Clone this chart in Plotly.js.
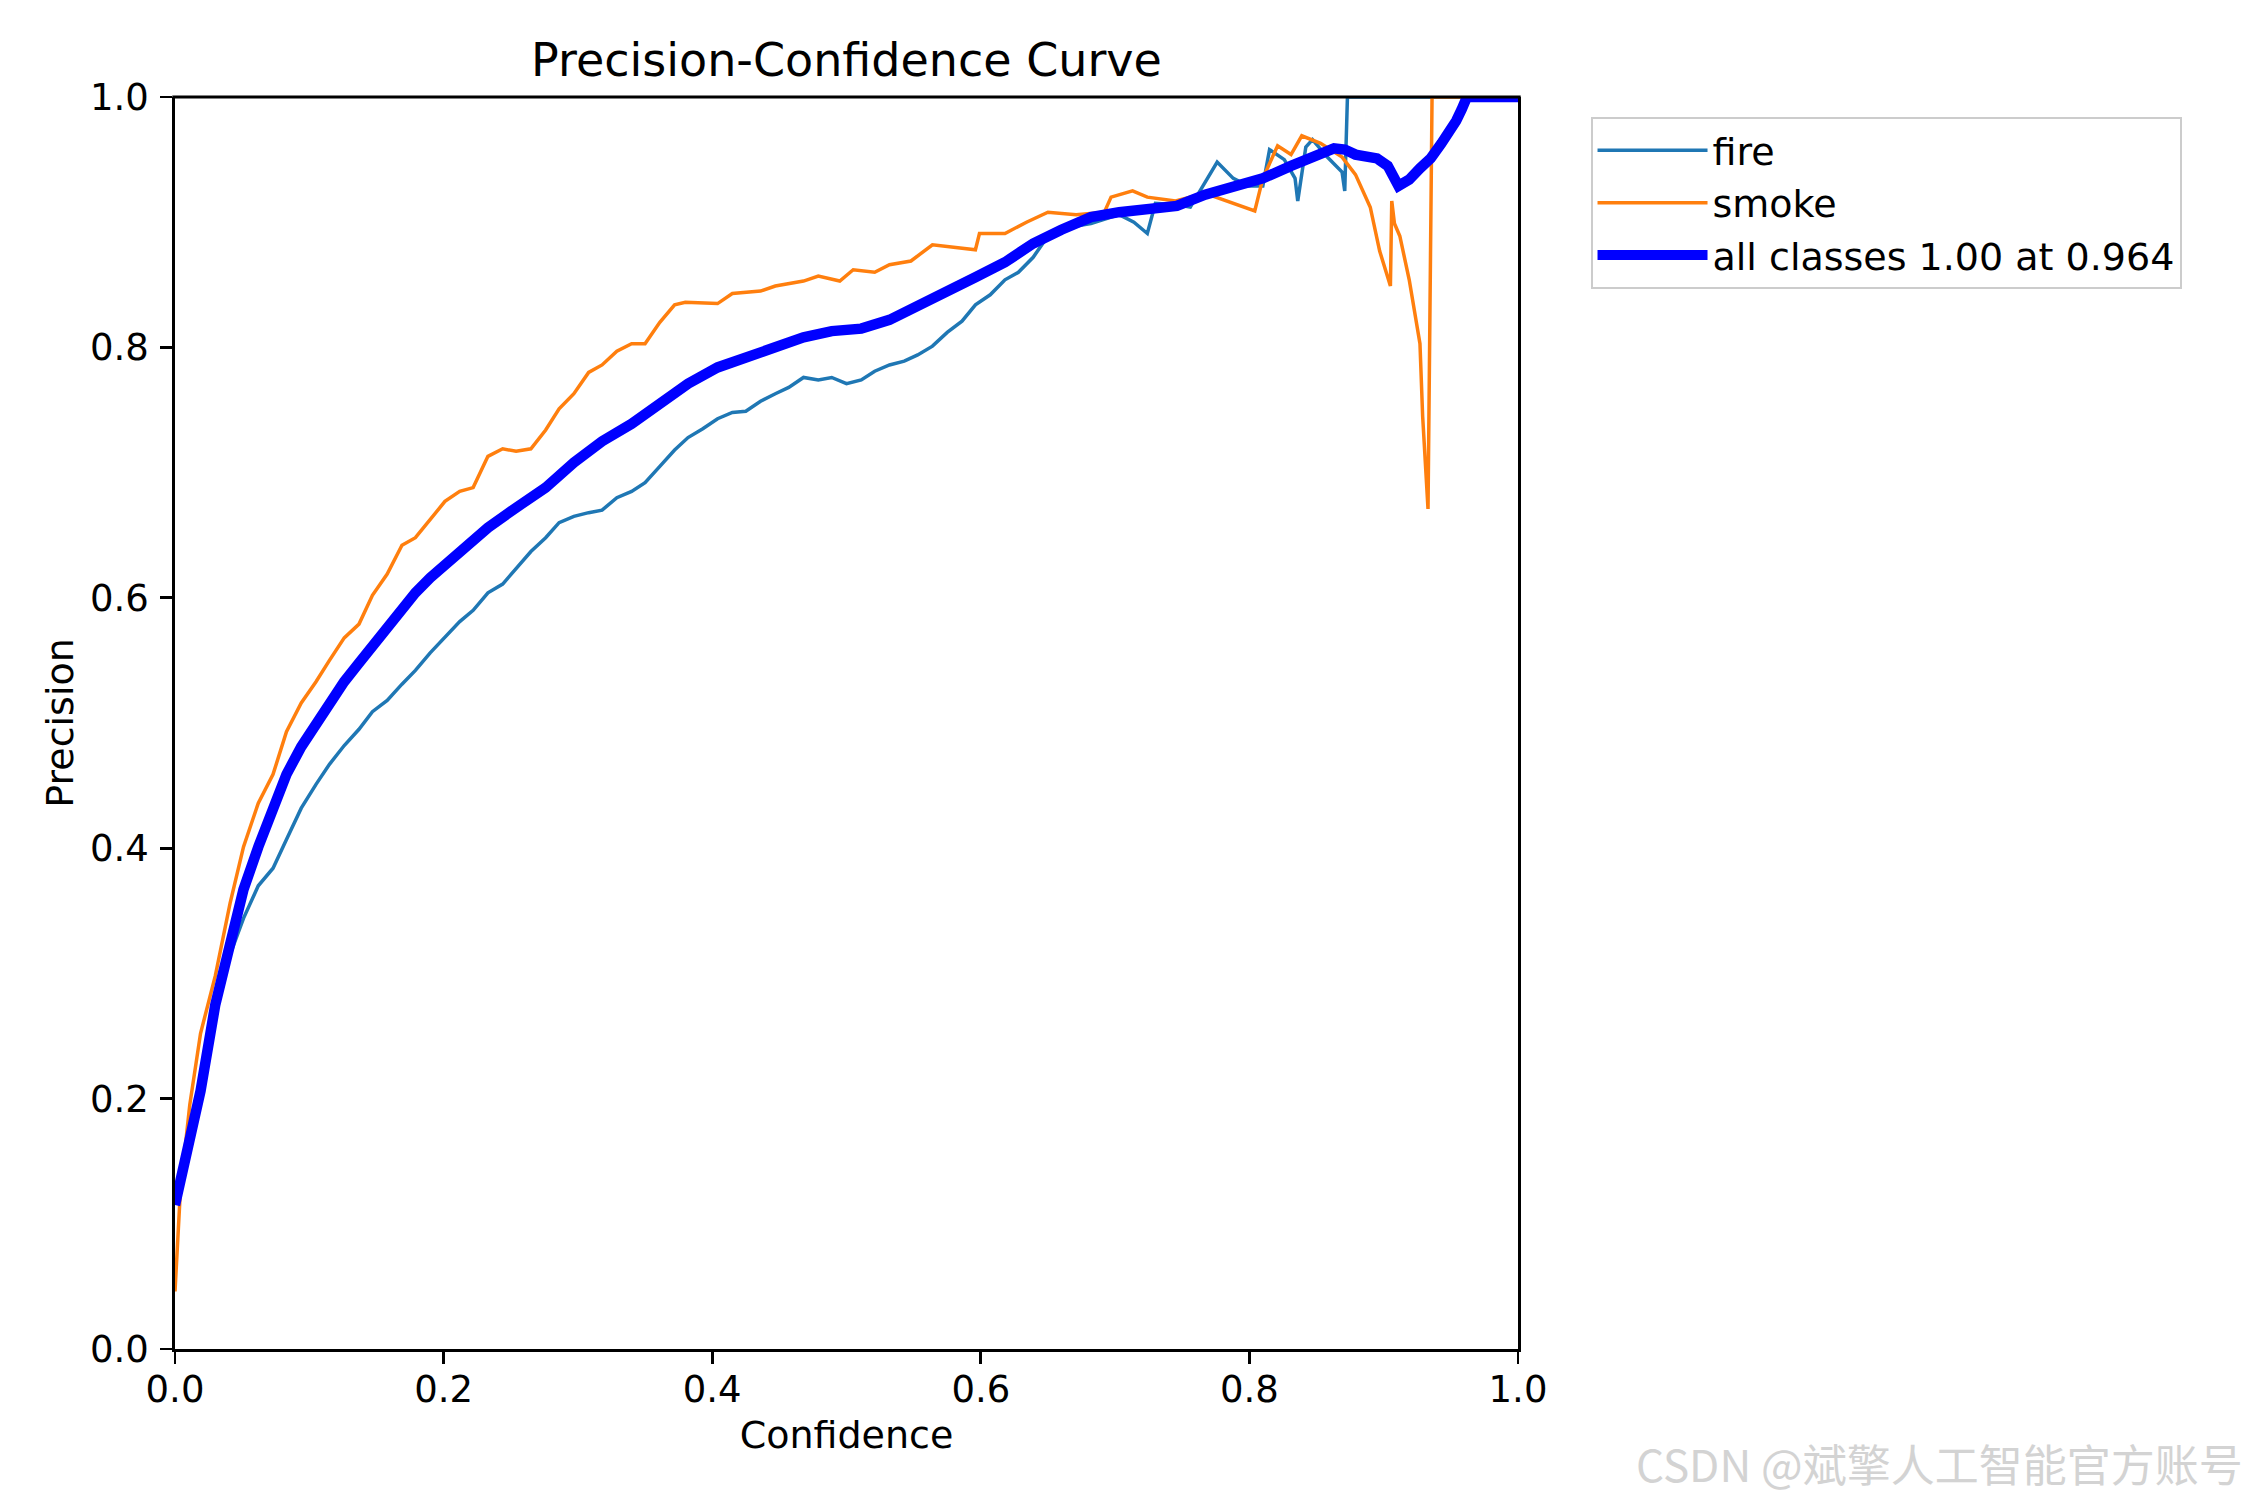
<!DOCTYPE html>
<html>
<head>
<meta charset="utf-8">
<script src="https://cdn.plot.ly/plotly-3.0.1.min.js"></script>
<style>
  body { margin: 0; background: #fff; }
  #chart { width: 2250px; height: 1500px; }
</style>
</head>
<body>
<div id="chart"></div>
<script>
// values (confidence -> precision)
var fireConf = [0, 0.01, 0.02, 0.03, 0.041, 0.051, 0.062, 0.073, 0.083, 0.094, 0.105, 0.115, 0.126, 0.137, 0.147, 0.158, 0.169, 0.179, 0.190, 0.201, 0.212, 0.222, 0.233, 0.244, 0.254, 0.265, 0.276, 0.286, 0.297, 0.308, 0.318, 0.329, 0.340, 0.350, 0.361, 0.372, 0.382, 0.393, 0.404, 0.415, 0.425, 0.436, 0.447, 0.457, 0.468, 0.479, 0.489, 0.500, 0.511, 0.521, 0.532, 0.543, 0.553, 0.564, 0.575, 0.586, 0.596, 0.607, 0.618, 0.628, 0.639, 0.650, 0.660, 0.671, 0.682, 0.692, 0.703, 0.714, 0.724, 0.730, 0.746, 0.756, 0.776, 0.788, 0.799, 0.810, 0.815, 0.826, 0.834, 0.836, 0.842, 0.847, 0.858, 0.869, 0.871, 0.873, 0.90, 0.95, 1.0];
var fireVals = [0.12, 0.17, 0.22, 0.27, 0.315, 0.344, 0.370, 0.384, 0.407, 0.432, 0.451, 0.467, 0.482, 0.495, 0.509, 0.518, 0.531, 0.542, 0.556, 0.568, 0.581, 0.590, 0.604, 0.611, 0.623, 0.637, 0.648, 0.660, 0.665, 0.668, 0.670, 0.680, 0.685, 0.692, 0.705, 0.718, 0.728, 0.735, 0.743, 0.748, 0.749, 0.757, 0.763, 0.768, 0.776, 0.774, 0.776, 0.771, 0.774, 0.781, 0.786, 0.789, 0.794, 0.801, 0.812, 0.821, 0.834, 0.842, 0.854, 0.860, 0.872, 0.889, 0.894, 0.897, 0.899, 0.902, 0.906, 0.900, 0.891, 0.915, 0.914, 0.912, 0.948, 0.935, 0.929, 0.929, 0.958, 0.950, 0.935, 0.917, 0.960, 0.966, 0.952, 0.940, 0.925, 1.0, 1.0, 1.0, 1.0];

var smokeConf = [0, 0.004, 0.011, 0.019, 0.030, 0.041, 0.051, 0.062, 0.073, 0.083, 0.094, 0.105, 0.115, 0.126, 0.137, 0.147, 0.158, 0.169, 0.179, 0.190, 0.201, 0.212, 0.222, 0.233, 0.244, 0.254, 0.265, 0.276, 0.286, 0.297, 0.308, 0.318, 0.329, 0.340, 0.350, 0.361, 0.372, 0.380, 0.404, 0.415, 0.436, 0.447, 0.468, 0.479, 0.495, 0.505, 0.521, 0.532, 0.548, 0.564, 0.596, 0.599, 0.618, 0.634, 0.650, 0.671, 0.692, 0.697, 0.713, 0.724, 0.745, 0.767, 0.788, 0.804, 0.810, 0.821, 0.831, 0.839, 0.853, 0.869, 0.879, 0.890, 0.897, 0.902, 0.905, 0.906, 0.908, 0.912, 0.919, 0.927, 0.929, 0.933, 0.936, 0.96, 1.0];
var smokeVals = [0.046, 0.126, 0.195, 0.252, 0.298, 0.356, 0.401, 0.436, 0.459, 0.493, 0.516, 0.533, 0.550, 0.568, 0.579, 0.602, 0.619, 0.642, 0.648, 0.662, 0.677, 0.685, 0.688, 0.713, 0.719, 0.717, 0.719, 0.734, 0.751, 0.763, 0.780, 0.786, 0.797, 0.803, 0.803, 0.820, 0.834, 0.836, 0.835, 0.843, 0.845, 0.849, 0.853, 0.857, 0.853, 0.862, 0.860, 0.866, 0.869, 0.882, 0.878, 0.891, 0.891, 0.900, 0.908, 0.906, 0.908, 0.920, 0.925, 0.920, 0.917, 0.923, 0.915, 0.909, 0.935, 0.961, 0.954, 0.969, 0.963, 0.952, 0.938, 0.912, 0.877, 0.860, 0.849, 0.917, 0.899, 0.889, 0.854, 0.803, 0.745, 0.671, 1.0, 1.0, 1.0];

var allConf = [0, 0.0085, 0.019, 0.030, 0.041, 0.051, 0.062, 0.073, 0.083, 0.094, 0.105, 0.115, 0.126, 0.137, 0.147, 0.158, 0.169, 0.179, 0.190, 0.201, 0.212, 0.233, 0.254, 0.276, 0.297, 0.318, 0.340, 0.361, 0.382, 0.404, 0.425, 0.447, 0.468, 0.489, 0.511, 0.532, 0.553, 0.575, 0.596, 0.618, 0.639, 0.660, 0.682, 0.703, 0.724, 0.746, 0.767, 0.788, 0.810, 0.831, 0.847, 0.863, 0.871, 0.879, 0.895, 0.903, 0.911, 0.919, 0.927, 0.935, 0.943, 0.949, 0.954, 0.958, 0.962, 1.0];
var allVals = [0.115, 0.16, 0.206, 0.275, 0.327, 0.367, 0.401, 0.431, 0.459, 0.481, 0.499, 0.517, 0.533, 0.548, 0.562, 0.577, 0.591, 0.604, 0.616, 0.626, 0.636, 0.656, 0.672, 0.688, 0.708, 0.725, 0.739, 0.755, 0.771, 0.784, 0.792, 0.799, 0.808, 0.813, 0.815, 0.822, 0.833, 0.843, 0.856, 0.868, 0.883, 0.894, 0.904, 0.908, 0.911, 0.913, 0.922, 0.929, 0.935, 0.945, 0.952, 0.959, 0.958, 0.954, 0.951, 0.945, 0.929, 0.934, 0.943, 0.951, 0.963, 0.972, 0.981, 0.990, 1.0, 1.0];

var xTicks = [0, 0.2, 0.4, 0.6, 0.8, 1.0];
var yTicks = [0, 0.2, 0.4, 0.6, 0.8, 1.0];

var font = "DejaVu Sans, sans-serif";

var data = [
  { x: fireConf, y: fireVals, name: "fire", type: "scatter", mode: "lines", legendgroup: "a",
    line: { color: "#1f77b4", width: 3.5 } },
  { x: smokeConf, y: smokeVals, name: "smoke", type: "scatter", mode: "lines", legendgroup: "b",
    line: { color: "#ff7f0e", width: 3.5 } },
  { x: allConf, y: allVals, name: "all classes 1.00 at 0.964", type: "scatter", mode: "lines", legendgroup: "c",
    line: { color: "#0000ff", width: 10.5 } }
];

var axisCommon = {
  range: [0, 1],
  showgrid: false,
  zeroline: false,
  showline: true,
  linecolor: "#000",
  linewidth: 2.8,
  layer: "above traces",
  ticks: "outside",
  ticklen: 12,
  tickwidth: 2.8,
  tickcolor: "#000",
  tickfont: { family: font, size: 37, color: "#000" },
  tickformat: ".1f",
  automargin: false
};

var layout = {
  width: 2250,
  height: 1500,
  paper_bgcolor: "#fff",
  plot_bgcolor: "#fff",
  margin: { l: 175, r: 732, t: 97, b: 151 },
  font: { family: font, color: "#000" },
  title: {
    text: "Precision-Confidence Curve",
    font: { family: font, size: 46, color: "#000" },
    x: 0.5, xref: "paper", xanchor: "center",
    y: 0.96, yref: "container", yanchor: "middle"
  },
  // top spine is a shape on the plot edge (below), so lines at 1.0 sit under it
  xaxis: Object.assign({}, axisCommon, {
    mirror: false,
    tickvals: xTicks,
    ticklabelstandoff: -6,
    title: { text: "Confidence", font: { family: font, size: 38, color: "#000" }, standoff: 12 }
  }),
  yaxis: Object.assign({}, axisCommon, {
    mirror: true,
    tickvals: yTicks,
    ticklabelstandoff: 4,
    title: { text: "Precision", font: { family: font, size: 38, color: "#000" }, standoff: 5 }
  }),
  shapes: [
    { type: "line", xref: "paper", yref: "paper", x0: -0.002, x1: 1.002, y0: 1, y1: 1,
      layer: "above", line: { color: "#000", width: 2.8 } }
  ],
  showlegend: true,
  legend: {
    x: 1.054, y: 0.984, xanchor: "left", yanchor: "top",
    bgcolor: "#fff",
    bordercolor: "#cccccc",
    borderwidth: 2,
    font: { family: font, size: 38, color: "#000" },
    itemwidth: 110,
    traceorder: "normal",
    tracegroupgap: 7
  },
  annotations: [
    { text: "CSDN @斌擎人工智能官方账号", xref: "paper", yref: "paper",
      x: 1.541, y: -0.091, xanchor: "right", yanchor: "middle", showarrow: false,
      font: { family: "Noto Sans CJK SC, sans-serif", size: 44, color: "#d3d3d3" } }
  ]
};

Plotly.newPlot("chart", data, layout, { displayModeBar: false, staticPlot: true });
</script>
</body>
</html>
